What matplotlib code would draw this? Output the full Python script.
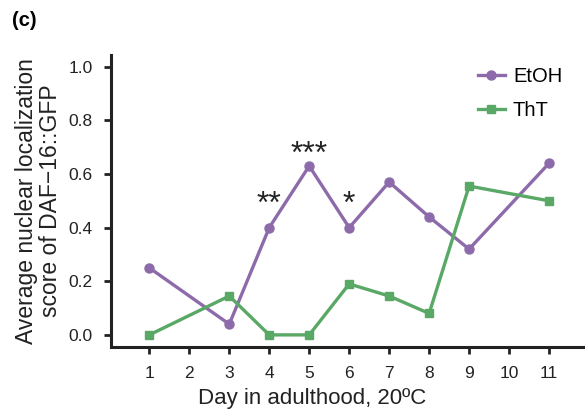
import numpy as np
import matplotlib.pyplot as plt

plt.rcParams['font.family'] = ['Liberation Sans', 'DejaVu Sans']

days = [1, 3, 4, 5, 6, 7, 8, 9, 11]
etoh = [0.25, 0.04, 0.40, 0.63, 0.40, 0.57, 0.44, 0.32, 0.64]
tht = [0.0, 0.145, 0.0, 0.0, 0.19, 0.145, 0.08, 0.555, 0.50]
x_ticks = [1, 2, 3, 4, 5, 6, 7, 8, 9, 10, 11]
y_ticks = [0.0, 0.2, 0.4, 0.6, 0.8, 1.0]
stars = [(4, 0.485, '**'), (5, 0.67, '***'), (6, 0.485, '*')]

purple = '#8d6bab'
green = '#59a866'

fig = plt.figure(figsize=(5.85, 4.15), dpi=100)
ax = fig.add_axes([0.189, 0.1646, 0.811, 0.703])

ax.plot(days, etoh, color=purple, lw=2.4, marker='o', ms=6.5, label='EtOH')
ax.plot(days, tht, color=green, lw=2.4, marker='s', ms=6, label='ThT')

for d, v, s in stars:
    ax.text(d, v, s, ha='center', va='center', fontsize=23, color='#222222')

ax.set_xlim(0.03, 11.9)
ax.set_ylim(-0.044, 1.044)
ax.set_xticks(x_ticks)
ax.set_yticks(y_ticks)
ax.set_yticklabels(['%.1f' % v for v in y_ticks])

for side in ['top', 'right']:
    ax.spines[side].set_visible(False)
for side in ['left', 'bottom']:
    ax.spines[side].set_linewidth(2.2)
    ax.spines[side].set_color('#222222')
ax.tick_params(width=2, length=5, labelsize=12.5, colors='#222222', pad=8)
ax.tick_params(axis='x', pad=9)

ax.set_xlabel('Day in adulthood, 20ºC', fontsize=16, color='#222222')
ax.xaxis.set_label_coords(0.424, -0.14)
ax.set_ylabel('Average nuclear localization\nscore of DAF\u221216::GFP', fontsize=16.5,
              color='#222222', linespacing=1.02)
ax.yaxis.set_label_coords(-0.103, 0.5)

ax.legend(loc='upper right', bbox_to_anchor=(0.99, 1.02), frameon=False, fontsize=14.5,
          handlelength=1.35, handletextpad=0.4, labelspacing=0.75)

fig.text(0.02, 0.95, '(c)', fontsize=14.5, fontweight='bold', va='center')

fig.savefig('out.png', dpi=100)
